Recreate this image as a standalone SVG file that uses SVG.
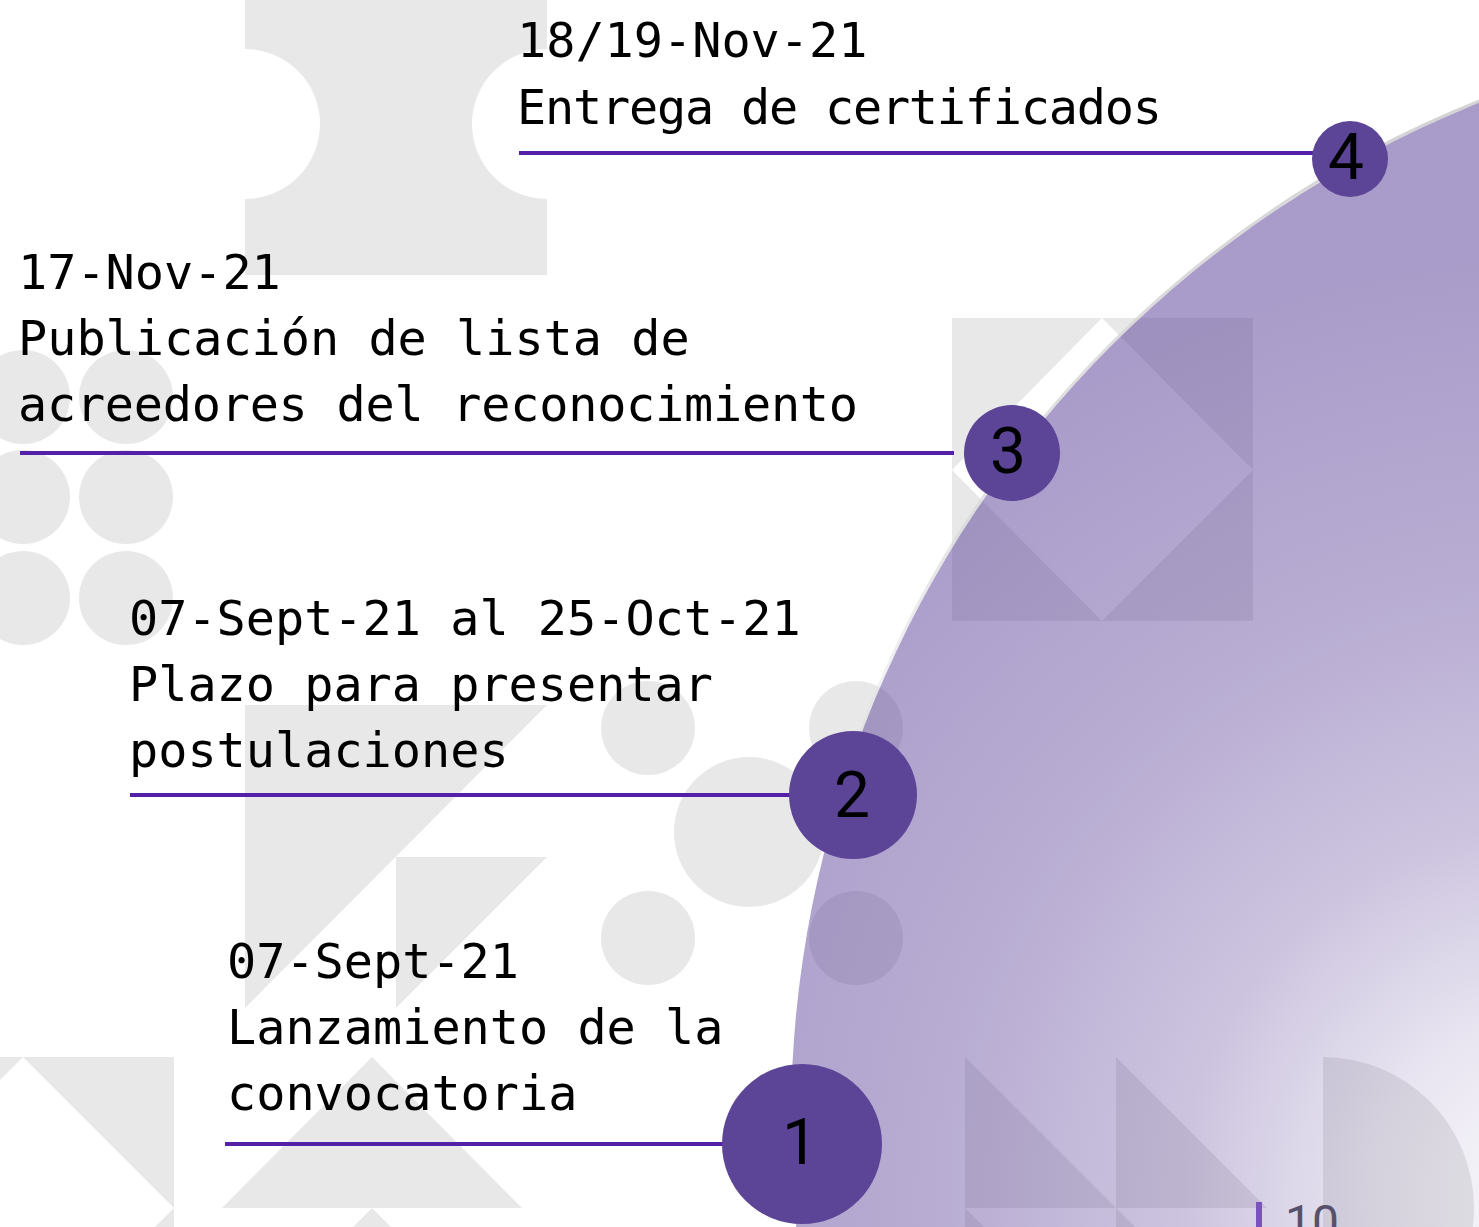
<svg xmlns="http://www.w3.org/2000/svg" width="1479" height="1227" viewBox="0 0 1479 1227">
<style>
.bg{fill:#e8e8e8}
.conn{stroke:#5420a9;stroke-width:4;fill:none}
.dot{fill:#5c4497}
.num{font-family:Roboto,"Liberation Sans",sans-serif;font-size:64px;fill:#000;text-anchor:middle}
.lbl{font-family:"DejaVu Sans Mono","Liberation Mono",monospace;font-size:48.5px;fill:#000}
.pg{font-family:Roboto,"Liberation Sans",sans-serif;font-size:48px;fill:#57506b}
</style>
<defs>
<radialGradient id="rg" gradientUnits="userSpaceOnUse" cx="1560" cy="1200" r="950">
<stop offset="0" stop-color="#5b4098" stop-opacity="0.02"/>
<stop offset="0.2" stop-color="#5b4098" stop-opacity="0.14"/>
<stop offset="0.4" stop-color="#5b4098" stop-opacity="0.31"/>
<stop offset="0.65" stop-color="#5b4098" stop-opacity="0.43"/>
<stop offset="1" stop-color="#5b4098" stop-opacity="0.52"/>
</radialGradient>
<linearGradient id="halo" gradientUnits="userSpaceOnUse" x1="1300" y1="100" x2="850" y2="900">
<stop offset="0" stop-color="#d4d4d4" stop-opacity="1"/>
<stop offset="0.6" stop-color="#d8d8d8" stop-opacity="0.7"/>
<stop offset="1" stop-color="#e0e0e0" stop-opacity="0"/>
</linearGradient>
</defs>
<rect width="1479" height="1227" fill="#fff"/>
<g id="background">
<path class="bg" d="M245,0 H547 V49 A75,75 0 0 0 547,199 V275 H245 V199 A75,75 0 0 0 245,49 Z"/>
<circle class="bg" cx="23" cy="397" r="47"/>
<circle class="bg" cx="126" cy="397" r="47"/>
<circle class="bg" cx="23" cy="497" r="47"/>
<circle class="bg" cx="126" cy="497" r="47"/>
<circle class="bg" cx="23" cy="598" r="47"/>
<circle class="bg" cx="126" cy="598" r="47"/>
<polygon class="bg" points="245,705 547,705 245,1008"/>
<polygon class="bg" points="396,857 547,857 396,1008"/>
<circle class="bg" cx="648" cy="728" r="47"/>
<circle class="bg" cx="856" cy="728" r="47"/>
<circle class="bg" cx="648" cy="938" r="47"/>
<circle class="bg" cx="856" cy="938" r="47"/>
<circle class="bg" cx="749" cy="832" r="75"/>
<polygon class="bg" points="952,318 1102,318 952,470"/>
<polygon class="bg" points="1102,318 1253,318 1253,470"/>
<polygon class="bg" points="1253,470 1253,621 1102,621"/>
<polygon class="bg" points="952,470 1102,621 952,621"/>
<path class="bg" fill-rule="evenodd" d="M0,1057 H174 V1227 H0 Z M23,1057 L174,1208 L23,1359 L-128,1208 Z"/>
<polygon class="bg" points="222,1208 372,1057 522,1208"/>
<polygon class="bg" points="222,1359 372,1208 522,1359"/>
<polygon class="bg" points="965,1057 965,1208 1116,1208"/>
<polygon class="bg" points="1116,1057 1116,1208 1267,1208"/>
<polygon class="bg" points="965,1208 965,1359 1116,1359"/>
<polygon class="bg" points="1116,1208 1116,1359 1267,1359"/>
<path class="bg" d="M1323,1057 A151,151 0 0 1 1323,1359 Z"/>
<circle cx="1887" cy="1120" r="1097.5" fill="none" stroke="url(#halo)" stroke-width="3"/>
<circle cx="1887" cy="1120" r="1096" fill="url(#rg)"/>
</g>
<g id="connectors">
<line class="conn" x1="519" y1="153" x2="1316" y2="153"/>
<line class="conn" x1="20" y1="453" x2="954" y2="453"/>
<line class="conn" x1="130" y1="795" x2="796" y2="795"/>
<line class="conn" x1="225" y1="1144" x2="743" y2="1144"/>
</g>
<g id="node-4">
<circle class="dot" cx="1350" cy="159" r="38"/>
<text class="num" x="1346" y="179">4</text>
<text class="lbl" x="517" y="57">18/19-Nov-21</text>
<text class="lbl" x="517" y="124" textLength="645" lengthAdjust="spacing">Entrega de certificados</text>
</g>
<g id="node-3">
<circle class="dot" cx="1012" cy="453" r="48"/>
<text class="num" x="1008" y="473">3</text>
<text class="lbl" x="18" y="289">17-Nov-21</text>
<text class="lbl" x="18" y="355">Publicación de lista de</text>
<text class="lbl" x="18" y="421" textLength="840" lengthAdjust="spacing">acreedores del reconocimiento</text>
</g>
<g id="node-2">
<circle class="dot" cx="853" cy="795" r="64"/>
<text class="num" x="852" y="817">2</text>
<text class="lbl" x="129" y="635">07-Sept-21 al 25-Oct-21</text>
<text class="lbl" x="129" y="701">Plazo para presentar</text>
<text class="lbl" x="129" y="767">postulaciones</text>
</g>
<g id="node-1">
<circle class="dot" cx="802" cy="1144" r="80"/>
<text class="num" x="800" y="1164">1</text>
<text class="lbl" x="227" y="978">07-Sept-21</text>
<text class="lbl" x="227" y="1044">Lanzamiento de la</text>
<text class="lbl" x="227" y="1110">convocatoria</text>
</g>
<g id="page-number">
<rect x="1256" y="1202" width="6" height="25" fill="#7b52b8"/>
<text class="pg" x="1285" y="1239">10</text>
</g>
</svg>
